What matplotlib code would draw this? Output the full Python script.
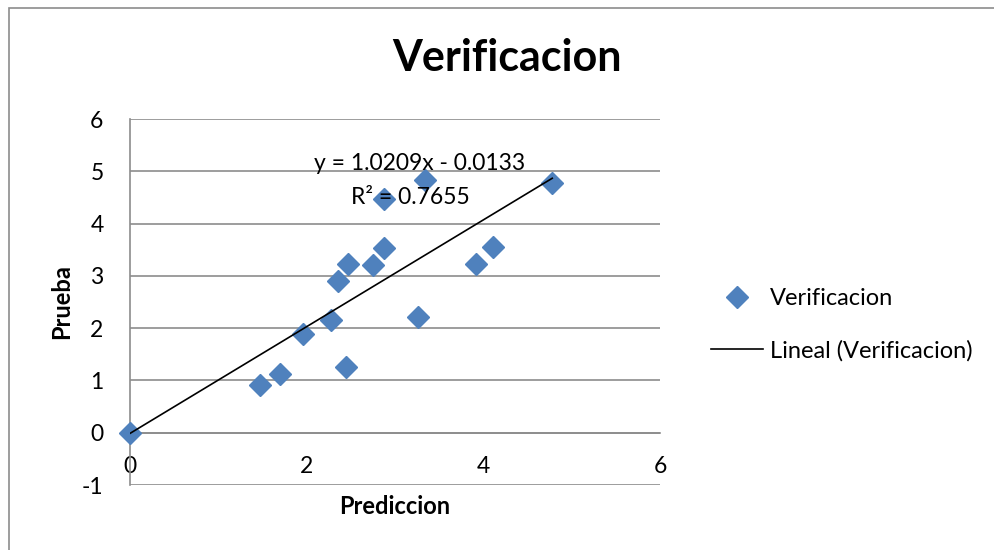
import matplotlib.pyplot as plt
import numpy as np

# valores
prediccion = [0.0, 1.47, 1.70, 1.96, 2.28, 2.36, 2.44, 2.47, 2.75, 2.87, 2.87, 3.26, 3.34, 3.92, 4.11, 4.78]
prueba = [0.0, 0.91, 1.13, 1.89, 2.16, 2.91, 1.25, 3.22, 3.20, 3.54, 4.47, 2.22, 4.83, 3.22, 3.55, 4.78]

pendiente = 1.0209
intercepto = -0.0133
ecuacion = 'y = 1.0209x - 0.0133'
r2_texto = 'R² = 0.7655'

yticks = [-1, 0, 1, 2, 3, 4, 5, 6]
xticks = [0, 2, 4, 6]

plt.rcParams['font.family'] = ['Lato', 'DejaVu Sans']
plt.rcParams['axes.unicode_minus'] = False

fig = plt.figure(figsize=(9.95, 5.5), dpi=100)
W, H = 995, 550

# marco exterior del grafico
fig.patches.append(plt.Rectangle((9 / W, -0.01), 1.0, 1 - 8 / H + 0.01, transform=fig.transFigure,
                                 fill=False, edgecolor='#8c8c8c', linewidth=1.2))

ax = fig.add_axes([130 / W, 1 - 485 / H, 530 / W, 366 / H])
ax.set_xlim(0, 6)
ax.set_ylim(-1, 6)

for y in yticks:
    ax.axhline(y, color='#8c8c8c', linewidth=1.2, zorder=0)

ax.spines['top'].set_visible(False)
ax.spines['right'].set_visible(False)
ax.spines['left'].set_position(('data', 0))
ax.spines['bottom'].set_position(('data', 0))
for s in ['left', 'bottom']:
    ax.spines[s].set_color('#8c8c8c')
    ax.spines[s].set_linewidth(1.2)

ax.set_yticks(yticks)
ax.set_xticks(xticks)
ax.tick_params(axis='both', length=0, labelsize=16.5)
ax.tick_params(axis='y', pad=19)
ax.tick_params(axis='x', pad=17)

ax.plot(prediccion, prueba, linestyle='none', marker='D', markersize=11,
        color='#4F81BD', label='Verificacion', zorder=3, clip_on=False)

xs = np.array([min(prediccion), max(prediccion)])
ax.plot(xs, pendiente * xs + intercepto, color='black', linewidth=1.2,
        label='Lineal (Verificacion)', zorder=4)

fig.text(420 / W, 1 - 164 / H, ecuacion, ha='center', va='center', fontsize=16.5)
fig.text(410 / W, 1 - 197 / H, r2_texto, ha='center', va='center', fontsize=16.5)

fig.text(507 / W, 1 - 58 / H, 'Verificacion', ha='center', va='center', fontsize=31, fontweight='bold')
fig.text(395 / W, 1 - 507 / H, 'Prediccion', ha='center', va='center', fontsize=17, fontweight='bold')
fig.text(62 / W, 1 - 302 / H, 'Prueba', ha='center', va='center', fontsize=17, fontweight='bold', rotation=90)

fig.legend(loc='center left', bbox_to_anchor=(690 / W, 1 - 325 / H), frameon=False,
           fontsize=17, handlelength=2.2, handletextpad=0.3, labelspacing=1.3)

fig.savefig('out.png', dpi=100)
